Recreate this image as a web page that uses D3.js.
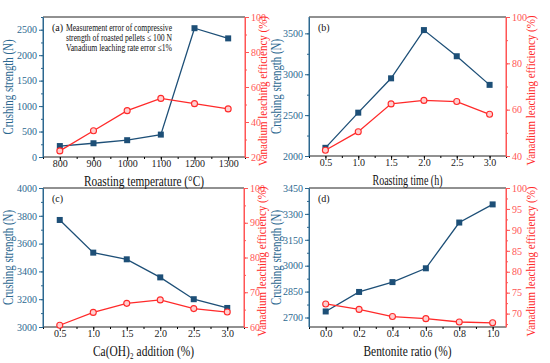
<!DOCTYPE html>
<html>
<head>
<meta charset="utf-8">
<script src="https://cdn.jsdelivr.net/npm/d3@7"></script>
<style>
  body { margin: 0; background: #fff; }
  svg text { font-family: "Liberation Serif", "Times New Roman", serif !important; }
</style>
</head>
<body>
<div id="chart"></div>
<script>
// data
var tempX = [800, 900, 1000, 1100, 1200, 1300];
var tempStrength = [215, 270, 330, 440, 2530, 2330];
var tempLeach = [23.5, 35, 46.5, 53.5, 50.5, 47.5];

var timeX = [0.5, 1.0, 1.5, 2.0, 2.5, 3.0];
var timeStrength = [2100, 2530, 2950, 3540, 3220, 2870];
var timeLeach = [42.5, 50.5, 62.5, 64, 63.5, 58];

var caX = [0.5, 1.0, 1.5, 2.0, 2.5, 3.0];
var caStrength = [3770, 3535, 3487, 3357, 3200, 3137];
var caLeach = [60.5, 64.2, 66.8, 67.8, 65.3, 64.3];

var benX = [0.0, 0.2, 0.4, 0.6, 0.8, 1.0];
var benStrength = [2735, 2848, 2905, 2985, 3250, 3355];
var benLeach = [72.3, 71.0, 69.3, 68.8, 68.0, 67.8];

var blue = "#1d4f77", blueAx = "#2c6890", red = "#ff2a2a", redAx = "#ff5555";
var serif = "Liberation Serif";

var svg = d3.select("#chart").append("svg")
  .attr("width", 550).attr("height", 363)
  .attr("font-family", serif);

// box = [left, top, right, bottom]; lx/rx = title offsets; xw = x-title width
var panels = [
  {tag: "(a)", x: tempX, s: tempStrength, v: tempLeach, box: [43, 17, 245, 157],
   xd: [750, 1350], xt: [800, 900, 1000, 1100, 1200, 1300], xf: d3.format("d"),
   sd: [0, 2750], st: [0, 500, 1000, 1500, 2000, 2500], sm: 250,
   vd: [20, 100], vt: [20, 40, 60, 80, 100], vm: 10, xm: 50,
   lx: 30, rx: 22, xw: 120, xlab: "Roasting temperature (°C)"},
  {tag: "(b)", x: timeX, s: timeStrength, v: timeLeach, box: [309, 17, 506, 156],
   xd: [0.25, 3.25], xt: timeX, xf: d3.format(".1f"),
   sd: [2000, 3700], st: [2000, 2500, 3000, 3500], sm: 250,
   vd: [40, 100], vt: [40, 60, 80, 100], vm: 10, xm: 0.25,
   lx: 28, rx: 29, xw: 70, xlab: "Roasting time (h)"},
  {tag: "(c)", x: caX, s: caStrength, v: caLeach, box: [43, 188, 244, 327],
   xd: [0.25, 3.25], xt: caX, xf: d3.format(".1f"),
   sd: [3000, 4000], st: [3000, 3200, 3400, 3600, 3800, 4000], sm: 100,
   vd: [60, 100], vt: [60, 70, 80, 90, 100], vm: 5, xm: 0.25,
   lx: 30, rx: 22, xw: 101, xlab: "Ca(OH)\u2082 addition (%)"},
  {tag: "(d)", x: benX, s: benStrength, v: benLeach, box: [309, 188, 506, 327],
   xd: [-0.1, 1.08], xt: benX, xf: d3.format(".1f"),
   sd: [2645, 3450], st: [2700, 2850, 3000, 3150, 3300, 3450], sm: 75,
   vd: [66.8, 100], vt: [70, 75, 80, 85, 90, 95, 100], vm: 2.5, xm: 0.1,
   lx: 28, rx: 29, xw: 88, xlab: "Bentonite ratio (%)"}
];

function minors(dom, step) {
  var out = [];
  var start = Math.ceil(dom[0] / step - 1e-9) * step;
  for (var t = start; t <= dom[1] + 1e-9; t += step) out.push(+t.toFixed(6));
  return out;
}

panels.forEach(function(p) {
  var L = p.box[0], T = p.box[1], R = p.box[2], B = p.box[3];
  var x = d3.scaleLinear().domain(p.xd).range([L, R]);
  var ys = d3.scaleLinear().domain(p.sd).range([B, T]);
  var yv = d3.scaleLinear().domain(p.vd).range([B, T]);
  var g = svg.append("g");

  // top border
  g.append("line").attr("x1", L).attr("x2", R).attr("y1", T).attr("y2", T)
    .attr("stroke", "#222").attr("stroke-width", 1);

  // bottom axis
  var xa = g.append("g").attr("transform", "translate(0," + B + ")")
    .call(d3.axisBottom(x).tickValues(p.xt).tickFormat(p.xf).tickSize(4).tickSizeOuter(0));
  g.append("g").attr("transform", "translate(0," + B + ")")
    .call(d3.axisBottom(x).tickValues(minors(p.xd, p.xm)).tickFormat("").tickSize(2).tickSizeOuter(0))
    .select(".domain").remove();
  xa.selectAll("text").attr("font-size", 10).attr("fill", "#222").attr("y", 3).attr("dy", "0.72em");
  xa.selectAll("line, .domain").attr("stroke", "#222");
  xa.select(".domain").attr("d", "M" + L + ",0H" + R);

  // left axis (strength)
  var la = g.append("g").attr("transform", "translate(" + L + ",0)")
    .call(d3.axisLeft(ys).tickValues(p.st).tickFormat(d3.format("d")).tickSize(4).tickSizeOuter(0));
  g.append("g").attr("transform", "translate(" + L + ",0)")
    .call(d3.axisLeft(ys).tickValues(minors(p.sd, p.sm)).tickFormat("").tickSize(2).tickSizeOuter(0))
    .selectAll("line, .domain").attr("stroke", blueAx);
  la.selectAll("line, .domain").attr("stroke", blueAx);
  la.select(".domain").attr("d", "M0," + T + "V" + B);
  la.selectAll("text").attr("font-size", 10).attr("fill", blueAx).attr("x", -6);

  // right axis (leaching)
  var ra = g.append("g").attr("transform", "translate(" + R + ",0)")
    .call(d3.axisRight(yv).tickValues(p.vt).tickFormat(d3.format("d")).tickSize(4).tickSizeOuter(0));
  g.append("g").attr("transform", "translate(" + R + ",0)")
    .call(d3.axisRight(yv).tickValues(minors(p.vd, p.vm)).tickFormat("").tickSize(2).tickSizeOuter(0))
    .selectAll("line, .domain").attr("stroke", redAx);
  ra.selectAll("line, .domain").attr("stroke", redAx);
  ra.select(".domain").attr("d", "M0," + T + "V" + B);
  ra.selectAll("text").attr("font-size", 10).attr("fill", redAx).attr("x", 6);

  g.selectAll("g").attr("font-family", serif);

  // axis titles (squeezed to the reference widths)
  var cy = (T + B) / 2;
  g.append("text").attr("x", (L + R) / 2).attr("y", B + 29)
    .attr("text-anchor", "middle").attr("font-size", 14).attr("fill", "#111")
    .attr("textLength", p.xw).attr("lengthAdjust", "spacingAndGlyphs")
    .text(p.xlab);
  g.append("text").attr("transform", "translate(" + (L - p.lx) + "," + cy + ") rotate(-90)")
    .attr("text-anchor", "middle").attr("font-size", 14).attr("fill", blueAx)
    .attr("textLength", 95).attr("lengthAdjust", "spacingAndGlyphs")
    .text("Crushing strength (N)");
  g.append("text").attr("transform", "translate(" + (R + p.rx) + "," + (cy + 4) + ") rotate(-90)")
    .attr("text-anchor", "middle").attr("font-size", 12.5).attr("fill", red)
    .attr("textLength", 150).attr("lengthAdjust", "spacingAndGlyphs")
    .text("Vanadium leaching efficiency (%)");

  // panel tag
  g.append("text").attr("x", L + 9).attr("y", T + 14).attr("font-size", 10)
    .attr("fill", "#111").text(p.tag);

  // strength series
  var sPts = p.x.map(function(d, i) { return [d, p.s[i]]; });
  g.append("path").datum(sPts)
    .attr("fill", "none").attr("stroke", blue).attr("stroke-width", 1.3)
    .attr("d", d3.line().x(function(d) { return x(d[0]); }).y(function(d) { return ys(d[1]); }));
  g.selectAll(".sq").data(sPts).enter().append("rect")
    .attr("x", function(d) { return x(d[0]) - 3; })
    .attr("y", function(d) { return ys(d[1]) - 3; })
    .attr("width", 6).attr("height", 6).attr("fill", blue);

  // leaching series
  var vPts = p.x.map(function(d, i) { return [d, p.v[i]]; });
  g.append("path").datum(vPts)
    .attr("fill", "none").attr("stroke", red).attr("stroke-width", 1.3)
    .attr("d", d3.line().x(function(d) { return x(d[0]); }).y(function(d) { return yv(d[1]); }));
  g.selectAll(".ci").data(vPts).enter().append("circle")
    .attr("cx", function(d) { return x(d[0]); })
    .attr("cy", function(d) { return yv(d[1]); })
    .attr("r", 3).attr("fill", "#ffd0d0").attr("stroke", red).attr("stroke-width", 1.1);
});

// note in panel (a)
var note = ["Measurement error of compressive",
            "strength of roasted pellets \u2264 100 N",
            "Vanadium leaching rate error \u22641%"];
svg.selectAll(".note").data(note).enter().append("text")
  .attr("x", 66).attr("y", function(d, i) { return 31 + i * 10; })
  .attr("font-size", 9.5).attr("fill", "#111")
  .attr("textLength", 106).attr("lengthAdjust", "spacingAndGlyphs")
  .text(function(d) { return d; });
</script>
</body>
</html>
